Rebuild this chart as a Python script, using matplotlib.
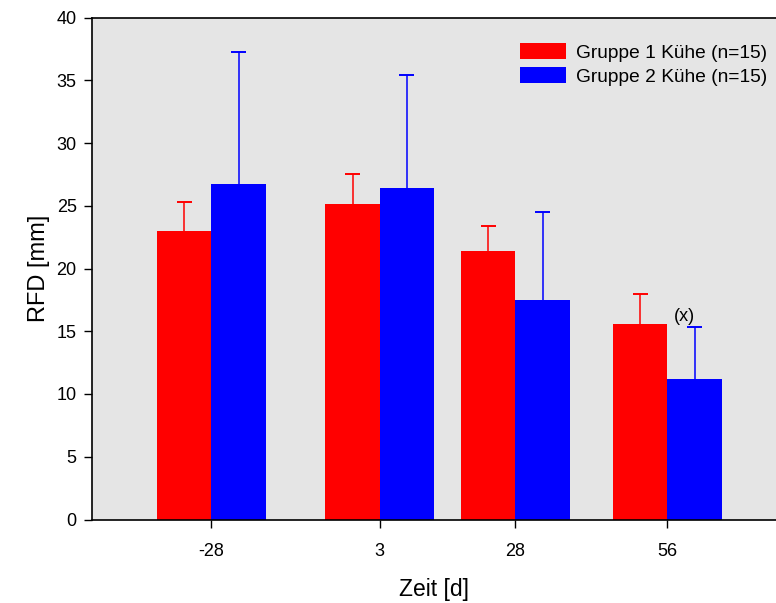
import matplotlib
matplotlib.use("Agg")
import numpy as np
import matplotlib.pyplot as plt

# Data
days = [-28, 3, 28, 56]
group1_mean = [23.0, 25.15, 21.4, 15.6]
group1_sd = [2.3, 2.35, 2.0, 2.35]
group2_mean = [26.75, 26.45, 17.5, 11.2]
group2_sd = [10.5, 8.95, 7.0, 4.15]
labels = ["Gruppe 1 Kühe (n=15)", "Gruppe 2 Kühe (n=15)"]

plt.rcParams["font.family"] = ["Liberation Sans", "DejaVu Sans"]

fig = plt.figure(figsize=(7.76, 6.03), dpi=100)
ax = fig.add_axes([92 / 776, 1 - 519.5 / 603, 1 - 92 / 776, (519.5 - 17.5) / 603])
ax.set_facecolor("#e5e5e5")

x = np.array(days, dtype=float)
width = 10
cap = 1.4
series = [(x - width / 2, group1_mean, group1_sd, "#ff0000", labels[0]),
          (x + width / 2, group2_mean, group2_sd, "#0000ff", labels[1])]
for pos, mean, sd, col, lab in series:
    mean = np.array(mean)
    top = mean + np.array(sd)
    ax.bar(pos, mean, width, color=col, label=lab, zorder=2)
    # upper error bars only
    ax.vlines(pos, mean, top, colors=col, linewidth=1.1, zorder=1)
    ax.hlines(top, pos - cap, pos + cap, colors=col, linewidth=1.4, zorder=1)

ax.text(59.1, 16.2, "(x)", fontsize=13, ha="center", va="center")

ax.set_xlim(-50, 76)
ax.set_ylim(0, 40)
ax.set_xticks(days)
ax.set_xticklabels([str(d) for d in days])
ax.set_yticks(np.arange(0, 41, 5))
ax.tick_params(direction="out", length=6, width=1, labelsize=13, pad=5)
ax.tick_params(axis="x", pad=11)
for s in ax.spines.values():
    s.set_linewidth(1.2)
ax.spines["right"].set_visible(False)

ax.set_xlabel("Zeit [d]", fontsize=16.5, labelpad=13)
ax.set_ylabel("RFD [mm]", fontsize=17, labelpad=5)

ax.legend(loc="upper right", bbox_to_anchor=(1.007, 0.975), frameon=False, fontsize=13.8,
          handlelength=2.4, handleheight=0.85, handletextpad=0.55, labelspacing=0.3,
          borderaxespad=0.3)

fig.savefig("out.png", dpi=100)
